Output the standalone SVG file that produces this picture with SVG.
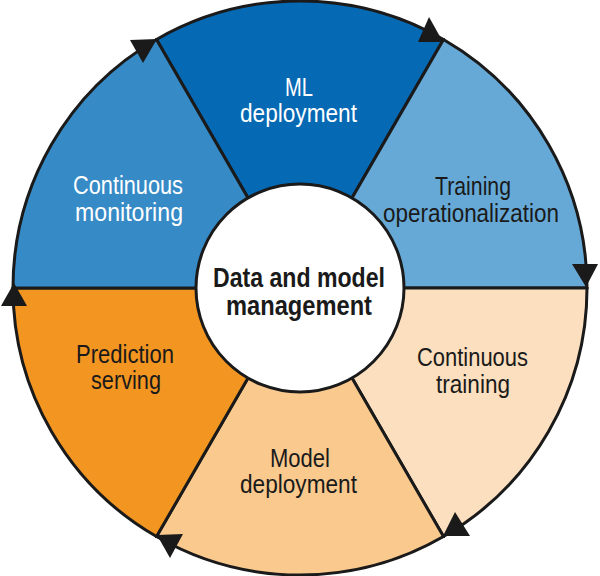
<svg xmlns="http://www.w3.org/2000/svg" width="600" height="576" viewBox="0 0 600 576">
<style>
.seg{stroke:none}
.lbl{font-family:"Liberation Sans",Arial,sans-serif;font-size:25px;text-anchor:middle}
.w{fill:#ffffff}
.d{fill:#1a1a1a}
.ctr{font-family:"Liberation Sans",Arial,sans-serif;font-size:27px;font-weight:bold;text-anchor:middle;fill:#1a1a1a}
.edge{fill:none;stroke:#1a1a1a;stroke-width:3;stroke-linecap:round;stroke-linejoin:round}
.arc{fill:none;stroke:#1a1a1a;stroke-width:3}
.head{fill:#1a1a1a;stroke:none}
</style>
<rect width="600" height="576" fill="#ffffff"/>
<g id="ml-deployment">
<path class="seg" fill="#0669b3" d="M156.5 39.45 A287 287 0 0 1 443.5 39.45 L352 197.93 A104 104 0 0 0 248 197.93 Z"/>
<path class="edge" d="M156.5 39.45 L248 197.93 M443.5 39.45 L352 197.93"/>
<text class="lbl w" x="299" y="96" textLength="28" lengthAdjust="spacingAndGlyphs">ML</text>
<text class="lbl w" x="298.5" y="122" textLength="117" lengthAdjust="spacingAndGlyphs">deployment</text>
</g>
<g id="training-operationalization">
<path class="seg" fill="#66a9d6" d="M443.5 39.45 A287 287 0 0 1 587 288 L404 288 A104 104 0 0 0 352 197.93 Z"/>
<path class="edge" d="M443.5 39.45 L352 197.93 M587 288 L404 288"/>
<text class="lbl d" x="473" y="195" textLength="76" lengthAdjust="spacingAndGlyphs">Training</text>
<text class="lbl d" x="471" y="222" textLength="176" lengthAdjust="spacingAndGlyphs">operationalization</text>
</g>
<g id="continuous-training">
<path class="seg" fill="#fbdfbe" d="M587 288 A287 287 0 0 1 443.5 536.55 L352 378.07 A104 104 0 0 0 404 288 Z"/>
<path class="edge" d="M587 288 L404 288 M443.5 536.55 L352 378.07"/>
<text class="lbl d" x="472.5" y="366" textLength="111" lengthAdjust="spacingAndGlyphs">Continuous</text>
<text class="lbl d" x="473" y="393" textLength="74" lengthAdjust="spacingAndGlyphs">training</text>
</g>
<g id="model-deployment">
<path class="seg" fill="#f9c98e" d="M443.5 536.55 A287 287 0 0 1 156.5 536.55 L248 378.07 A104 104 0 0 0 352 378.07 Z"/>
<path class="edge" d="M443.5 536.55 L352 378.07 M156.5 536.55 L248 378.07"/>
<text class="lbl d" x="300" y="467" textLength="60" lengthAdjust="spacingAndGlyphs">Model</text>
<text class="lbl d" x="298.5" y="493" textLength="117" lengthAdjust="spacingAndGlyphs">deployment</text>
</g>
<g id="prediction-serving">
<path class="seg" fill="#f39521" d="M156.5 536.55 A287 287 0 0 1 13 288 L196 288 A104 104 0 0 0 248 378.07 Z"/>
<path class="edge" d="M156.5 536.55 L248 378.07 M13 288 L196 288"/>
<text class="lbl d" x="125" y="363" textLength="98" lengthAdjust="spacingAndGlyphs">Prediction</text>
<text class="lbl d" x="126" y="389" textLength="70" lengthAdjust="spacingAndGlyphs">serving</text>
</g>
<g id="continuous-monitoring">
<path class="seg" fill="#368ac6" d="M13 288 A287 287 0 0 1 156.5 39.45 L248 197.93 A104 104 0 0 0 196 288 Z"/>
<path class="edge" d="M13 288 L196 288 M156.5 39.45 L248 197.93"/>
<text class="lbl w" x="128" y="194" textLength="110" lengthAdjust="spacingAndGlyphs">Continuous</text>
<text class="lbl w" x="129" y="221" textLength="108" lengthAdjust="spacingAndGlyphs">monitoring</text>
</g>
<g id="data-and-model-management">
<circle cx="300" cy="288" r="104" fill="#ffffff" stroke="#1a1a1a" stroke-width="3"/>
<text class="ctr" x="299" y="287" textLength="172" lengthAdjust="spacingAndGlyphs">Data and model</text>
<text class="ctr" x="299" y="315" textLength="146" lengthAdjust="spacingAndGlyphs">management</text>
</g>
<g id="connectors">
<path class="arc" d="M156.5 39.45 A287 287 0 0 1 443.5 39.45"/>
<path class="arc" d="M443.5 39.45 A287 287 0 0 1 587 288"/>
<path class="arc" d="M587 288 A287 287 0 0 1 443.5 536.55"/>
<path class="arc" d="M443.5 536.55 A287 287 0 0 1 156.5 536.55"/>
<path class="arc" d="M156.5 536.55 A287 287 0 0 1 13 288"/>
<path class="arc" d="M13 288 A287 287 0 0 1 156.5 39.45"/>
<polygon class="head" points="130,40 157,39 143,63"/>
<polygon class="head" points="418,42 443,42 429,17"/>
<polygon class="head" points="572,264 598,264 586,287"/>
<polygon class="head" points="443,536 470,536 455,512"/>
<polygon class="head" points="157,535 183,534 170,558"/>
<polygon class="head" points="1,306 27,306 14,283"/>
</g>
</svg>
